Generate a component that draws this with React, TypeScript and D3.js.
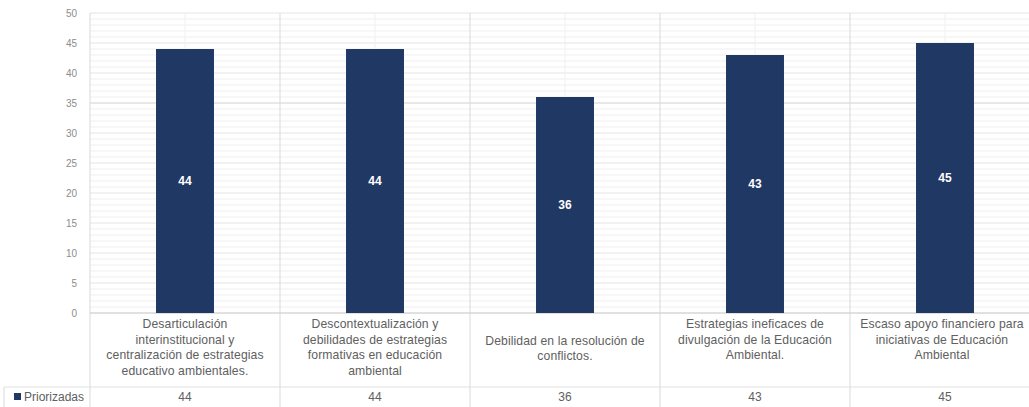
import React from "react";
import * as d3 from "d3";

const categories: string[] = [
  "Desarticulación\ninterinstitucional y\ncentralización de estrategias\neducativo ambientales.",
  "Descontextualización y\ndebilidades de estrategias\nformativas en educación\nambiental",
  "Debilidad en la resolución de\nconflictos.",
  "Estrategias ineficaces de\ndivulgación de la Educación\nAmbiental.",
  "Escaso apoyo financiero para\niniciativas de Educación\nAmbiental",
];
const values: number[] = [44, 44, 36, 43, 45];
const seriesName = "Priorizadas";
const yTicks: number[] = [0, 5, 10, 15, 20, 25, 30, 35, 40, 45, 50];

const W = 1029;
const H = 407;
const FONT = "'Liberation Sans', Arial, sans-serif";

export default function App() {
  const left = 90;
  const right = 1040;
  const top = 13;
  const bottom = 313;
  const tableRow = 387;

  const xCat = d3.scaleBand<string>().domain(categories).range([left, right]).padding(0);
  const xBar = d3
    .scaleBand<string>()
    .domain(categories)
    .range([left, right])
    .paddingInner(0.695)
    .paddingOuter(0.3475);
  const y = d3.scaleLinear().domain([0, 50]).range([bottom, top]);
  const minor = d3.range(0, 51, 1);

  const bounds = categories.map((c) => xCat(c) as number).concat([right]);

  return (
    <svg
      width={W}
      height={H}
      style={{ position: "absolute", left: 0, top: 0, background: "#fff" }}
      fontFamily={FONT}
    >
      {/* minor grid */}
      {minor.map((v) => (
        <line
          key={"m" + v}
          x1={left}
          x2={right}
          y1={y(v)}
          y2={y(v)}
          stroke={v === 35 ? "#d0d0d0" : v % 5 === 0 ? "#e4e4e4" : "#efefef"}
          strokeWidth={1}
        />
      ))}
      {/* faint center lines */}
      {categories.map((c) => (
        <line
          key={"c" + c}
          x1={(xCat(c) as number) + xCat.bandwidth() / 2}
          x2={(xCat(c) as number) + xCat.bandwidth() / 2}
          y1={top}
          y2={bottom}
          stroke="#f0f0f0"
        />
      ))}
      {/* category boundaries */}
      {bounds.map((b, i) => (
        <line key={"b" + i} x1={b} x2={b} y1={top} y2={H} stroke="#d9d9d9" />
      ))}
      {/* axis line */}
      <line x1={left} x2={right} y1={bottom} y2={bottom} stroke="#d0d0d0" />
      {/* table lines */}
      <line x1={4} x2={right} y1={tableRow} y2={tableRow} stroke="#e0e0e0" />
      <line x1={4} x2={4} y1={tableRow} y2={H} stroke="#d9d9d9" />

      {/* y ticks */}
      {yTicks.map((t) => (
        <text
          key={"t" + t}
          x={77}
          y={y(t)}
          textAnchor="end"
          dominantBaseline="central"
          fontSize={10}
          fill="#8c8c8c"
        >
          {t}
        </text>
      ))}

      {/* bars */}
      {categories.map((c, i) => (
        <rect
          key={"r" + i}
          x={xBar(c)}
          y={y(values[i])}
          width={xBar.bandwidth()}
          height={y(0) - y(values[i])}
          fill="#1f3864"
        />
      ))}
      {/* data labels */}
      {categories.map((c, i) => (
        <text
          key={"l" + i}
          x={(xBar(c) as number) + xBar.bandwidth() / 2}
          y={(y(values[i]) + y(0)) / 2}
          textAnchor="middle"
          dominantBaseline="central"
          fontSize={12}
          fontWeight="bold"
          fill="#ffffff"
        >
          {values[i]}
        </text>
      ))}

      {/* category labels */}
      {categories.map((c, i) => {
        const lines = c.split("\n");
        const start = lines.length >= 3 ? 324 : 340.5;
        const cx = (xCat(c) as number) + xCat.bandwidth() / 2 - (i === categories.length - 1 ? 3 : 0);
        return (
          <text
            key={"cl" + i}
            textAnchor="middle"
            fontSize={12.2}
            letterSpacing={0.1}
            fill="#606060"
          >
            {lines.map((ln, j) => (
              <tspan key={j} x={cx} y={start + j * 15.7} dominantBaseline="central">
                {ln}
              </tspan>
            ))}
          </text>
        );
      })}

      {/* table values */}
      {categories.map((c, i) => (
        <text
          key={"tv" + i}
          x={(xCat(c) as number) + xCat.bandwidth() / 2}
          y={397}
          textAnchor="middle"
          dominantBaseline="central"
          fontSize={12}
          fill="#606060"
        >
          {values[i]}
        </text>
      ))}
      {/* legend */}
      <rect x={14} y={393} width={7} height={7} fill="#1f3864" />
      <text x={24} y={397} dominantBaseline="central" fontSize={12} fill="#606060">
        {seriesName}
      </text>
    </svg>
  );
}
